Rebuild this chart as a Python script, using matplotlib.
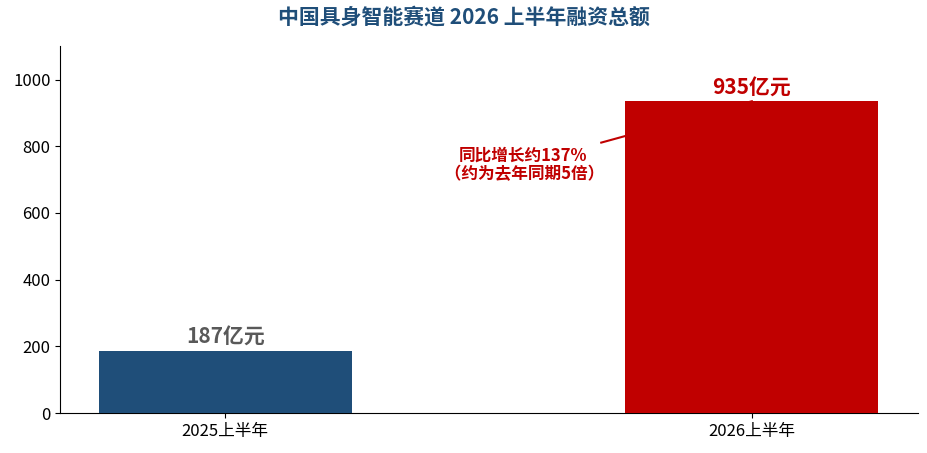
import matplotlib
matplotlib.use("Agg")
import matplotlib.pyplot as plt

plt.rcParams["font.family"] = ["Noto Sans CJK SC", "DejaVu Sans"]

categories = ["2025上半年", "2026上半年"]
values = [187, 935]
labels = ["187亿元", "935亿元"]
colors = ["#1f4e79", "#c00000"]
label_colors = ["#595959", "#c00000"]

fig = plt.figure(figsize=(9.28, 4.53), dpi=100)
ax = fig.add_axes([0.065, 0.088, 0.924, 0.81])

x = list(range(len(categories)))
ax.bar(x, values, width=0.48, color=colors, zorder=3)
for xi, v, lab, c in zip(x, values, labels, label_colors):
    ax.text(xi, v + 8, lab, ha="center", va="bottom", fontsize=15,
            fontweight="bold", color=c, zorder=4)

# growth annotation, line runs under the red bar
ax.plot([0.714, 1.0], [811, 935], color="#c00000", lw=1.5, zorder=2)
ax.text(0.565, 745, "同比增长约137%\n （约为去年同期5倍）", ha="center", va="center",
        fontsize=12, fontweight="bold", color="#c00000", linespacing=1.05)

ax.set_xlim(-0.313, 1.315)
ax.set_ylim(0, 1100)
ax.set_yticks(range(0, 1001, 200))
ax.set_xticks(x)
ax.set_xticklabels(categories)
ax.tick_params(labelsize=12)
for s in ["top", "right"]:
    ax.spines[s].set_visible(False)

fig.suptitle("中国具身智能赛道 2026 上半年融资总额", y=0.985, fontsize=15,
             fontweight="bold", color="#1f4e79")

fig.savefig("out.png")
